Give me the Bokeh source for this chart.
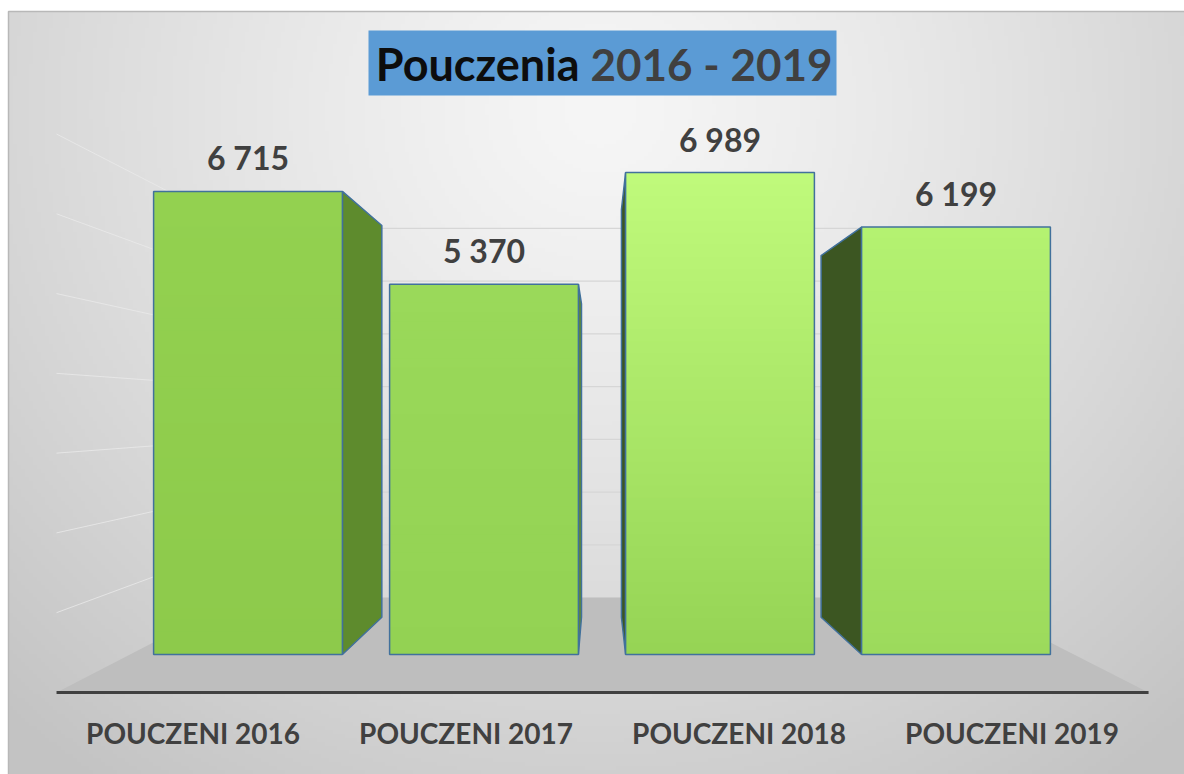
import numpy as np
from bokeh.plotting import figure
from bokeh.models import Range1d, ColumnDataSource
from bokeh.core.properties import value
from bokeh.embed import file_html
from bokeh.resources import INLINE

# ---------------- data ----------------
categories = ["POUCZENI 2016", "POUCZENI 2017", "POUCZENI 2018", "POUCZENI 2019"]
values = [6715, 5370, 6989, 6199]
value_labels = ["6 715", "5 370", "6 989", "6 199"]
grid_values = [1000, 2000, 3000, 4000, 5000, 6000, 7000]
title_main = "Pouczenia"
title_years = "2016 - 2019"

# bar face colours (top, bottom)
bar_top_colors = ["#93d150", "#9ad95a", "#c0fa7b", "#b4f271"]
bar_bottom_colors = ["#8dca4b", "#93d253", "#95d455", "#9cda5c"]

# ---------------- layout helpers (picture pixel -> data) ----------------
X0, DX = 247.5, 236.0      # pixel of category 0, pixels per category
Y0, DY = 654.0, 0.06896    # pixel of value 0, pixels per value unit


def ix(px):
    return (px - X0) / DX


def iy(py):
    return (Y0 - py) / DY


VX, VY = ix(598), iy(412)  # vanishing point
S_BAR = 0.846              # depth of bar back face
S_WALL = 0.7645            # depth of back wall
S_FRONT = 1.1568           # depth of floor front edge
HALF = 0.4                 # half bar width
FLOOR_L, FLOOR_R = -0.5, len(values) - 0.5


def proj(x, y, s):
    return VX + (x - VX) * s, VY + (y - VY) * s


p = figure(width=1184, height=774,
           x_range=Range1d(ix(0), ix(1184)), y_range=Range1d(iy(774), iy(0)),
           output_backend="svg", toolbar_location=None, min_border=0,
           x_axis_location=None, y_axis_location=None)
p.grid.visible = False
p.outline_line_color = None
p.background_fill_color = "white"
p.border_fill_color = "white"

# ---------------- background gradient ----------------
LEFT, TOP = 8, 11
H, W = 190, 294
rows = np.arange(H)
cols = np.arange(W)
py = 774 - (rows[:, None] + 0.5) * (774 - TOP) / H
pxx = LEFT + (cols[None, :] + 0.5) * (1184 - LEFT) / W
d = np.sqrt((pxx - 600) ** 2 + ((py - 110) * 1.05) ** 2)
g = np.clip(246 - 40 * (d / 720) ** 1.25, 195, 246).astype(np.uint32)
img = (255 << 24) | (g << 16) | (g << 8) | g
p.image_rgba(image=[img.astype(np.uint32)], x=ix(LEFT), y=iy(774),
             dw=ix(1184) - ix(LEFT), dh=iy(TOP) - iy(774))
p.line([ix(LEFT), ix(LEFT), ix(1184)], [iy(774), iy(TOP), iy(TOP)],
       line_color="#b8b8b8", line_width=1.5)

# ---------------- floor ----------------
fl = [proj(FLOOR_L, 0, S_FRONT), proj(FLOOR_R, 0, S_FRONT),
      proj(FLOOR_R, 0, S_WALL), proj(FLOOR_L, 0, S_WALL)]
p.patch([q[0] for q in fl], [q[1] for q in fl], fill_color="#bebebe",
        line_color=None)

# ---------------- wall gridlines ----------------
bx, by, lx, ly = [], [], [], []
for gv in grid_values:
    a, b = proj(FLOOR_L, gv, S_WALL), proj(FLOOR_R, gv, S_WALL)
    bx.append([a[0], b[0]]); by.append([a[1], b[1]])
    c = proj(FLOOR_L, gv, S_FRONT)
    lx.append([c[0], a[0]]); ly.append([c[1], a[1]])
p.multi_line(bx, by, line_color="#d6d6d6", line_width=1.2)
p.multi_line(lx, ly, line_color="#eaeaea", line_alpha=0.8, line_width=1)

# floor front edge
fa, fb = proj(FLOOR_L, 0, S_FRONT), proj(FLOOR_R, 0, S_FRONT)
p.line([fa[0], fb[0]], [fa[1], fb[1]], line_color="#404040", line_width=3)

# ---------------- bars ----------------
OUT = "#41719c"
side_xs, side_ys, side_cols = [], [], []
for i, v in enumerate(values):
    if i + HALF < VX:
        xe, col = i + HALF, "#5e8b2d"
    else:
        xe, col = i - HALF, "#3c5622"
    pts = [(xe, 0), (xe, v), proj(xe, v, S_BAR), proj(xe, 0, S_BAR)]
    side_xs.append([q[0] for q in pts]); side_ys.append([q[1] for q in pts])
    side_cols.append(col)
p.patches(side_xs, side_ys, fill_color=side_cols, line_color=OUT, line_width=1.5)


def hex2rgb(h):
    return np.array([int(h[k:k + 2], 16) for k in (1, 3, 5)], dtype=float)


N = 40
sl, sr, sb, st, sc = [], [], [], [], []
for i, v in enumerate(values):
    ct, cb = hex2rgb(bar_top_colors[i]), hex2rgb(bar_bottom_colors[i])
    for k in range(N):
        f = (k + 0.5) / N
        c = cb + (ct - cb) * f
        sl.append(i - HALF); sr.append(i + HALF)
        sb.append(v * k / N); st.append(min(v, v * (k + 1) / N + v * 0.004))
        sc.append("#%02x%02x%02x" % tuple(int(round(t)) for t in c))
p.quad(left=sl, right=sr, bottom=sb, top=st, fill_color=sc, line_color=None)

# text baseline correction (px) for the renderer
VAL_SHIFT, CAT_SHIFT, TITLE_SHIFT = 12, 11, 15

xs_c = list(range(len(values)))
src = ColumnDataSource(dict(
    x=xs_c, v=values, lab=value_labels,
    l=[i - HALF for i in xs_c], r=[i + HALF for i in xs_c], b=[0] * len(values),
    ly=[v + (21.5 + VAL_SHIFT) / DY for v in values],
    cx=[proj(i, 0, S_FRONT)[0] for i in xs_c], cat=categories,
    cy=[iy(743 - CAT_SHIFT)] * len(values)))
p.quad(left="l", right="r", bottom="b", top="v", source=src,
       fill_color=None, line_color=OUT, line_width=1.5)

# value labels
p.text(x="x", y="ly", text="lab", source=src, text_font=value("Lato"),
       text_font_style="bold", text_font_size="32px", text_color="#404040",
       text_align="center", text_baseline="alphabetic")

# category labels
p.text(x="cx", y="cy", text="cat", source=src, text_font=value("Lato"),
       text_font_style="bold", text_font_size="28px", text_color="#404040",
       text_align="center", text_baseline="alphabetic")

# ---------------- title ----------------
p.quad(left=[ix(368)], right=[ix(836)], bottom=[iy(95)], top=[iy(30)],
       fill_color="#5b9bd5", line_color=None)
p.text(x=[ix(579)], y=[iy(78.5 - TITLE_SHIFT)], text=[title_main],
       text_font=value("Lato"), text_font_style="bold", text_font_size="45px",
       text_color="#0d0d0d", text_align="right", text_baseline="alphabetic")
p.text(x=[ix(590)], y=[iy(78.5 - TITLE_SHIFT)], text=[title_years],
       text_font=value("Lato"), text_font_style="bold", text_font_size="44px",
       text_color="#404040", text_align="left", text_baseline="alphabetic")

open("out.html", "w").write(file_html(p, INLINE))
